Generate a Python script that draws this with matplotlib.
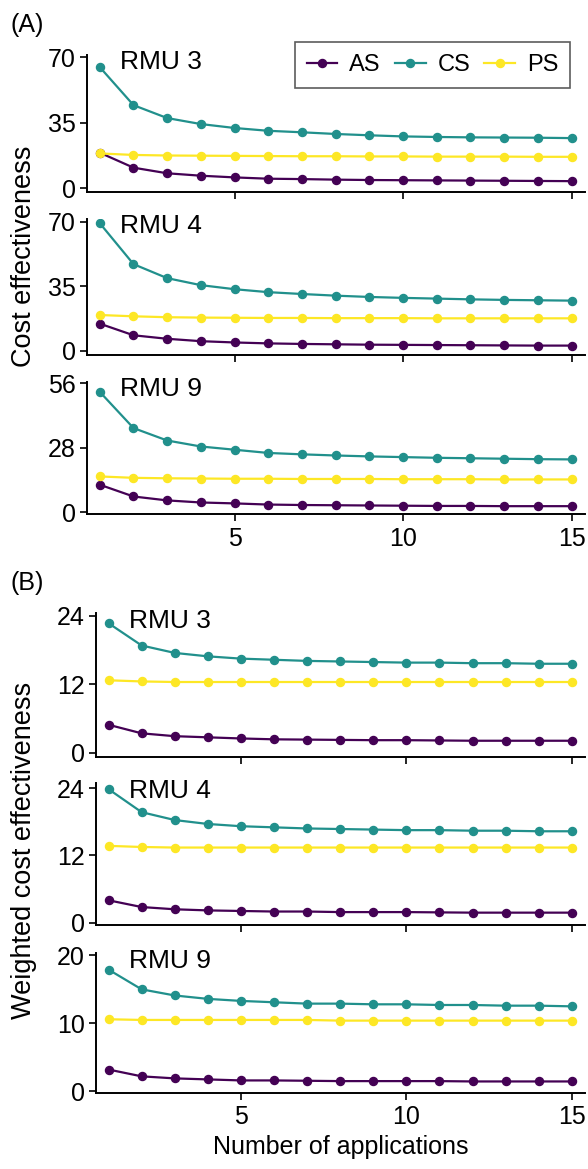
import numpy as np
import matplotlib
matplotlib.use("Agg")
import matplotlib.pyplot as plt

plt.rcParams['font.family'] = ['Liberation Sans', 'DejaVu Sans']

apps = np.arange(1, 16)
strategies = ['AS', 'CS', 'PS']
colors = {'AS': '#440154', 'CS': '#21908C', 'PS': '#FDE725'}

# (A) cost effectiveness
cost_rmu3_as = [18.9, 10.9, 7.9, 6.6, 5.7, 5.0, 4.8, 4.5, 4.3, 4.2, 4.1, 4.0, 3.9, 3.8, 3.7]
cost_rmu3_cs = [64.6, 44.3, 37.4, 34.2, 32.1, 30.6, 29.8, 28.9, 28.2, 27.6, 27.3, 27.1, 27.0, 26.9, 26.7]
cost_rmu3_ps = [18.5, 17.7, 17.4, 17.3, 17.2, 17.1, 17.0, 17.0, 16.9, 16.9, 16.8, 16.8, 16.8, 16.7, 16.7]

cost_rmu4_as = [14.8, 8.5, 6.6, 5.3, 4.6, 4.1, 3.8, 3.6, 3.4, 3.3, 3.2, 3.1, 3.0, 2.9, 2.9]
cost_rmu4_cs = [69.3, 47.1, 39.5, 35.7, 33.5, 31.9, 30.9, 30.0, 29.3, 28.8, 28.4, 28.0, 27.7, 27.5, 27.3]
cost_rmu4_ps = [19.5, 18.8, 18.3, 18.1, 18.0, 17.9, 17.9, 17.8, 17.8, 17.8, 17.7, 17.7, 17.7, 17.7, 17.7]

cost_rmu9_as = [12.0, 6.9, 5.2, 4.3, 3.9, 3.4, 3.2, 3.1, 3.0, 2.9, 2.8, 2.8, 2.7, 2.7, 2.7]
cost_rmu9_cs = [52.3, 36.6, 31.2, 28.6, 27.2, 25.8, 25.2, 24.7, 24.3, 24.0, 23.7, 23.5, 23.3, 23.1, 23.0]
cost_rmu9_ps = [15.6, 15.0, 14.8, 14.7, 14.6, 14.6, 14.5, 14.5, 14.5, 14.4, 14.4, 14.4, 14.3, 14.3, 14.3]

# (B) weighted cost effectiveness
wcost_rmu3_as = [4.9, 3.4, 2.9, 2.7, 2.5, 2.35, 2.3, 2.25, 2.2, 2.2, 2.15, 2.1, 2.1, 2.1, 2.1]
wcost_rmu3_cs = [22.7, 18.8, 17.5, 16.9, 16.5, 16.3, 16.1, 16.0, 15.9, 15.8, 15.8, 15.7, 15.7, 15.6, 15.6]
wcost_rmu3_ps = [12.7, 12.5, 12.4, 12.4, 12.4, 12.4, 12.4, 12.4, 12.4, 12.4, 12.4, 12.4, 12.4, 12.4, 12.4]

wcost_rmu4_as = [4.0, 2.8, 2.4, 2.2, 2.1, 2.0, 2.0, 1.9, 1.9, 1.9, 1.85, 1.8, 1.8, 1.8, 1.8]
wcost_rmu4_cs = [23.8, 19.7, 18.3, 17.6, 17.2, 17.0, 16.8, 16.7, 16.6, 16.5, 16.5, 16.4, 16.4, 16.3, 16.3]
wcost_rmu4_ps = [13.7, 13.5, 13.4, 13.4, 13.4, 13.4, 13.4, 13.4, 13.4, 13.4, 13.4, 13.4, 13.4, 13.4, 13.4]

wcost_rmu9_as = [3.2, 2.2, 1.9, 1.75, 1.6, 1.6, 1.55, 1.5, 1.5, 1.5, 1.5, 1.45, 1.45, 1.45, 1.45]
wcost_rmu9_cs = [17.9, 15.0, 14.1, 13.6, 13.3, 13.1, 12.9, 12.9, 12.8, 12.8, 12.7, 12.7, 12.6, 12.6, 12.5]
wcost_rmu9_ps = [10.6, 10.5, 10.5, 10.5, 10.5, 10.5, 10.5, 10.4, 10.4, 10.4, 10.4, 10.4, 10.4, 10.4, 10.4]

panels = [
    ('RMU 3', [cost_rmu3_as, cost_rmu3_cs, cost_rmu3_ps], [0, 35, 70]),
    ('RMU 4', [cost_rmu4_as, cost_rmu4_cs, cost_rmu4_ps], [0, 35, 70]),
    ('RMU 9', [cost_rmu9_as, cost_rmu9_cs, cost_rmu9_ps], [0, 28, 56]),
    ('RMU 3', [wcost_rmu3_as, wcost_rmu3_cs, wcost_rmu3_ps], [0, 12, 24]),
    ('RMU 4', [wcost_rmu4_as, wcost_rmu4_cs, wcost_rmu4_ps], [0, 12, 24]),
    ('RMU 9', [wcost_rmu9_as, wcost_rmu9_cs, wcost_rmu9_ps], [0, 10, 20]),
]

W, H = 588, 1169
fig = plt.figure(figsize=(W / 100, H / 100), dpi=100)

# pixel boxes: left, right, top, bottom
boxes = [(87, 585, 55, 192), (87, 585, 219, 355), (87, 585, 382, 514),
         (96, 585, 613, 757), (96, 585, 783, 925), (96, 585, 953, 1093)]
ylims = [(-2.1, 71.1), (-2.2, 71.6), (-0.7, 56.6),
         (-0.75, 24.5), (-0.4, 24.9), (-0.25, 20.35)]

axes = []
for i, (name, series, yt) in enumerate(panels):
    l, r, t, b = boxes[i]
    ax = fig.add_axes([l / W, 1 - b / H, (r - l) / W, (b - t) / H])
    for s, vals in zip(strategies, series):
        ax.plot(apps, vals, '-o', color=colors[s], lw=1.6, ms=5.8, label=s)
    ax.set_xlim(0.62, 15.4)
    ax.set_ylim(*ylims[i])
    ax.set_yticks(yt)
    ax.set_xticks([5, 10, 15])
    for side in ['top', 'right']:
        ax.spines[side].set_visible(False)
    for side in ['left', 'bottom']:
        ax.spines[side].set_linewidth(1.4)
    ax.tick_params(length=5, width=1.2, labelsize=18, pad=3)
    ax.tick_params(axis='x', pad=4)
    if i not in (2, 5):
        ax.tick_params(axis='x', labelbottom=False)
    ax.text(0.067, 0.895, name, transform=ax.transAxes, fontsize=19,
            va='baseline', ha='left')
    axes.append(ax)

axes[0].legend(loc='upper right', bbox_to_anchor=(570 / W, 1 - 42 / H),
               bbox_transform=fig.transFigure, borderaxespad=0, ncol=3,
               fontsize=17, frameon=True, fancybox=False, edgecolor='#333333',
               handlelength=1.3, handletextpad=0.5, columnspacing=0.6,
               borderpad=0.5)
axes[0].get_legend().get_frame().set_linewidth(1.2)

axes[5].set_xlabel('Number of applications', fontsize=18, labelpad=4)
fig.text(24 / W, 1 - 256 / H, 'Cost effectiveness', rotation=90,
         fontsize=19.5, ha='center', va='center')
fig.text(24 / W, 1 - 850 / H, 'Weighted cost effectiveness', rotation=90,
         fontsize=19.5, ha='center', va='center')
fig.text(11 / W, 1 - 25 / H, '(A)', fontsize=18, ha='left', va='center')
fig.text(11 / W, 1 - 583 / H, '(B)', fontsize=18, ha='left', va='center')

fig.savefig('out.png', dpi=100)
